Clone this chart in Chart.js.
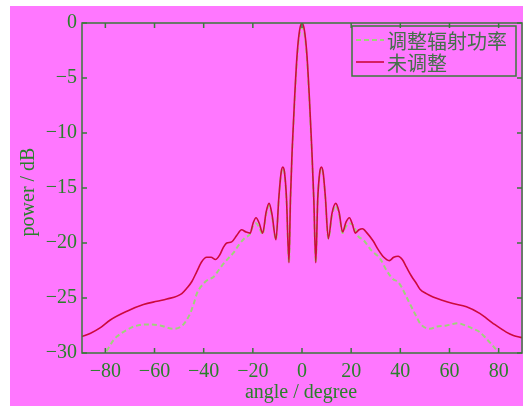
<!DOCTYPE html>
<html>
<head>
<meta charset="utf-8">
<script src="https://cdn.jsdelivr.net/npm/chart.js@4.4.0/dist/chart.umd.min.js"></script>
<style>
  html, body { margin: 0; padding: 0; background: #ffffff; }
  #wrap { position: absolute; left: 10px; top: 6px; width: 513px; height: 400px; background: #ff77ff; }
</style>
</head>
<body>
<div id="wrap"><canvas id="beam" width="513" height="400"></canvas></div>
<script>
// 数据：角度 (degree) 和功率 (dB)
const xTicks = [-80, -60, -40, -20, 0, 20, 40, 60, 80];
const yTicks = [0, -5, -10, -15, -20, -25, -30];
const seriesNames = ['调整辐射功率', '未调整'];

const redAngles = [-89.5, -86, -82, -78, -71.2, -64.5, -59, -55, -48.9, -46.8, -44.8, -42.8, -40.8, -38.8, -37, -35.2,
  -33.5, -32, -30.6, -28.6, -26.5, -24.6, -22.8, -21.1, -19.9, -18.7, -17.4, -16, -14.6, -13.4, -12.2, -10.6,
  -9.4, -8.5, -7.8, -7.1, -6.3, -5.3, -4.7, -4, -3, -2, -1, 0,
  1, 2, 3, 4, 4.8, 5.6, 6.4, 7.2, 7.9, 8.6, 9.5, 10.7, 12.2, 13.7, 15.1, 16.5, 17.9, 19.3, 20.5, 21.7, 23.2,
  24.6, 26.5, 28.9, 31, 33.3, 35.5, 37.3, 39.1, 40.8, 42.5, 44.5, 46.6, 48, 50.6, 53.3, 57, 61.4, 66.9, 72.3,
  77.7, 83.1, 86, 89.5];
const redPower = [-28.5, -28.2, -27.7, -27.0, -26.2, -25.6, -25.3, -25.1, -24.6, -24.1, -23.5, -22.6, -21.7, -21.3, -21.3, -21.5,
  -21.1, -20.4, -20.0, -19.9, -19.3, -18.8, -19.0, -19.1, -18.2, -17.7, -18.2, -19.1, -17.2, -16.4, -17.4, -19.7,
  -15.8, -13.6, -13.1, -13.6, -16.0, -21.8, -16.0, -11.5, -6.8, -2.9, -0.7, 0,
  -0.7, -2.9, -6.8, -11.5, -16.0, -21.8, -16.0, -13.6, -13.1, -13.6, -15.8, -19.6, -17.3, -16.4, -17.2, -19.0, -18.1, -17.7, -18.3, -19.1, -18.8,
  -18.7, -19.1, -19.8, -20.6, -21.3, -21.6, -21.3, -21.2, -21.5, -22.2, -23.0, -23.7, -24.2, -24.6, -24.9, -25.2, -25.5, -25.8, -26.4,
  -27.3, -28.1, -28.4, -28.6];

const greenAngles = [-90, -85, -80, -76.6, -75.3, -71.2, -68.5, -63.5, -57.7, -52.3, -49.2, -47.5, -45.5, -44, -42.8, -40.1,
  -38, -36, -34, -32, -30, -27.9, -25.5, -23.1, -21.2, -20, -18.7, -17.4, -16, -14.6, -13.4, -12.2, -10.6,
  -9.4, -8.5, -7.8, -7.1, -6.3, -5.3, -4.7, -4, -3, -2, -1, 0,
  1, 2, 3, 4, 4.8, 5.6, 6.4, 7.2, 7.9, 8.6, 9.5, 10.7, 12.2, 13.7, 15.1, 16.5, 17.9, 19.3, 20.9, 22.9, 24.9,
  28.3, 31.7, 34.4, 37.1, 38.8, 40.5, 42.5, 44.5, 46.6, 48, 52, 55, 58.8, 63.5, 66.5, 69.6, 72.3, 75, 77.5, 80.1, 85, 90];
const greenPower = [-33.5, -31.5, -30.0, -28.8, -28.5, -27.9, -27.6, -27.4, -27.5, -27.8, -27.6, -27.2, -26.4, -25.5, -24.6, -23.7,
  -23.3, -23.1, -22.5, -21.9, -21.4, -20.9, -20.1, -19.5, -19.2, -18.5, -18.2, -18.6, -19.2, -17.4, -16.6, -17.6, -19.7,
  -15.9, -13.7, -13.2, -13.7, -16.1, -21.8, -16.2, -11.8, -7.1, -3.2, -1.0, -0.4,
  -1.0, -3.2, -7.1, -11.8, -16.2, -21.8, -16.1, -13.7, -13.2, -13.7, -15.9, -19.6, -17.5, -16.6, -17.4, -19.1, -18.5, -18.2, -18.4, -19.4, -19.7,
  -20.7, -21.4, -22.5, -23.3, -23.5, -24.0, -24.9, -25.8, -26.7, -27.3, -27.8, -27.6, -27.5, -27.3, -27.5, -27.8, -28.1, -28.7, -29.3, -30.0, -31.5, -33.5];

const axisColor = '#3b7a3b';
const tickColor = '#2a802a';
const serif = '"Liberation Serif", "DejaVu Serif", serif';

function toPoints(xs, ys) {
  return xs.map((x, i) => ({ x: x, y: ys[i] }));
}
function minusLabel(v) {
  return v < 0 ? '\u2212' + Math.abs(v) : String(v);
}

// 边框 + 向内的刻度线
const frameTicks = {
  id: 'frameTicks',
  afterDraw(chart) {
    const { ctx, chartArea: a, scales } = chart;
    ctx.save();
    ctx.strokeStyle = axisColor;
    ctx.lineWidth = 1.5;
    ctx.strokeRect(a.left, a.top, a.right - a.left, a.bottom - a.top);
    ctx.beginPath();
    xTicks.forEach(v => {
      const px = scales.x.getPixelForValue(v);
      ctx.moveTo(px, a.bottom); ctx.lineTo(px, a.bottom - 5);
      ctx.moveTo(px, a.top); ctx.lineTo(px, a.top + 5);
    });
    yTicks.forEach(v => {
      const py = scales.y.getPixelForValue(v);
      ctx.moveTo(a.left, py); ctx.lineTo(a.left + 5, py);
      ctx.moveTo(a.right, py); ctx.lineTo(a.right - 5, py);
    });
    ctx.stroke();

    // 坐标轴标题
    ctx.fillStyle = tickColor;
    ctx.font = '20px ' + serif;
    ctx.textAlign = 'center';
    ctx.textBaseline = 'middle';
    ctx.fillText('angle / degree', 291, 387);
    ctx.translate(19, 186);
    ctx.rotate(-Math.PI / 2);
    ctx.fillText('power / dB', 0, 0);
    ctx.restore();

    // 图例
    ctx.save();
    ctx.strokeStyle = axisColor;
    ctx.lineWidth = 1.5;
    ctx.strokeRect(342, 20, 164, 50);
    const rows = [34, 56];
    chart.data.datasets.forEach((ds, i) => {
      ctx.beginPath();
      ctx.strokeStyle = ds.borderColor;
      ctx.lineWidth = ds.borderWidth;
      ctx.setLineDash(ds.borderDash || []);
      ctx.moveTo(346, rows[i]); ctx.lineTo(374, rows[i]);
      ctx.stroke();
      ctx.setLineDash([]);
      ctx.fillStyle = '#44704a';
      ctx.font = '20px "Noto Sans CJK SC", sans-serif';
      ctx.textAlign = 'left';
      ctx.textBaseline = 'middle';
      ctx.fillText(ds.label, 377, rows[i] + 1);
    });
    ctx.restore();
  }
};

new Chart(document.getElementById('beam'), {
  type: 'line',
  data: {
    datasets: [
      {
        label: seriesNames[0],
        data: toPoints(greenAngles, greenPower),
        borderColor: '#9ed27a',
        borderWidth: 2,
        borderDash: [5, 3],
        pointRadius: 0,
        cubicInterpolationMode: 'monotone',
        fill: false,
        order: 1
      },
      {
        label: seriesNames[1],
        data: toPoints(redAngles, redPower),
        borderColor: '#cc0a3c',
        borderWidth: 1.6,
        pointRadius: 0,
        cubicInterpolationMode: 'monotone',
        fill: false,
        order: 0
      }
    ]
  },
  options: {
    responsive: false,
    animation: false,
    layout: { padding: { top: 14, right: 1, left: 0, bottom: 0 } },
    plugins: { legend: { display: false }, tooltip: { enabled: false } },
    scales: {
      x: {
        type: 'linear',
        min: -89.5,
        max: 89.5,
        afterBuildTicks: scale => { scale.ticks = xTicks.map(v => ({ value: v })); },
        afterFit: scale => { scale.height = 53; },
        grid: { display: false, drawTicks: false },
        border: { display: false },
        ticks: { color: tickColor, font: { family: serif, size: 20 }, padding: 7, maxRotation: 0, autoSkip: false, callback: minusLabel }
      },
      y: {
        type: 'linear',
        min: -30,
        max: 0,
        afterBuildTicks: scale => { scale.ticks = yTicks.map(v => ({ value: v })); },
        afterFit: scale => { scale.width = 72; },
        grid: { display: false, drawTicks: false },
        border: { display: false },
        ticks: { color: tickColor, font: { family: serif, size: 20 }, padding: 5, autoSkip: false, callback: minusLabel }
      }
    }
  },
  plugins: [frameTicks]
});
</script>
</body>
</html>
